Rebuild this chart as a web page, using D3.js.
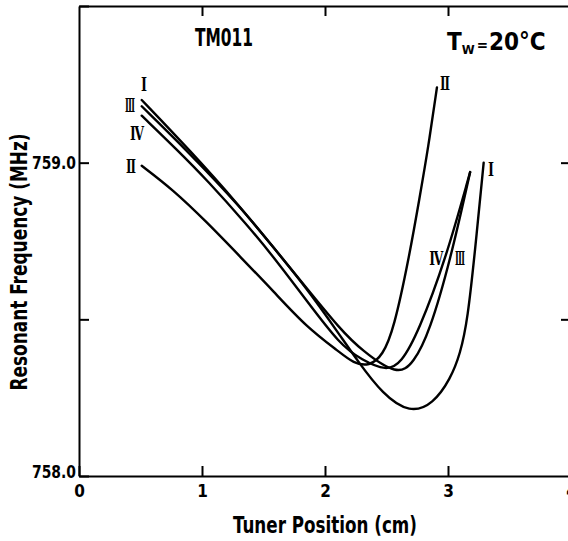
<!DOCTYPE html>
<html>
<head>
<meta charset="utf-8">
<script src="https://cdn.jsdelivr.net/npm/d3@7"></script>
<style>
  html, body { margin: 0; padding: 0; background: #fff; }
  svg { display: block; }
  .axis path, .axis line { stroke: #000; stroke-width: 2; }
  .axis text { font-family: "DejaVu Sans Condensed", "Liberation Sans Narrow", sans-serif; font-weight: bold; font-size: 17px; fill: #000; }
  .lbl { font-family: "DejaVu Sans Condensed", "Liberation Sans Narrow", sans-serif; font-weight: bold; fill: #000; }
  .roman { font-family: "DejaVu Serif", serif; font-weight: bold; fill: #000; }
</style>
</head>
<body>
<div id="chart"></div>
<script>
// tuner position (cm) / resonant frequency (MHz)
const curveNames = ["I", "II", "III", "IV"];

const posI  = [0.51, 0.90, 1.31, 1.58, 1.85, 2.12, 2.26, 2.47, 2.69, 2.88, 3.02, 3.10, 3.16, 3.22, 3.29];
const freqI = [759.20, 759.04, 758.86, 758.73, 758.60, 758.45, 758.37, 758.26, 758.20, 758.23, 758.31, 758.39, 758.50, 758.72, 759.00];

const posII  = [0.51, 0.76, 1.04, 1.31, 1.58, 1.85, 2.12, 2.23, 2.36, 2.47, 2.56, 2.68, 2.77, 2.84, 2.91];
const freqII = [758.99, 758.915, 758.81, 758.70, 758.59, 758.475, 758.395, 758.36, 758.35, 758.385, 758.47, 758.69, 758.89, 759.05, 759.24];

const posIII  = [0.51, 0.90, 1.31, 1.58, 1.85, 2.12, 2.30, 2.59, 2.72, 2.85, 3.02, 3.18];
const freqIII = [759.18, 759.03, 758.86, 758.73, 758.60, 758.47, 758.40, 758.32, 758.36, 758.46, 758.69, 758.97];

const posIV  = [0.51, 0.80, 1.04, 1.37, 1.58, 1.85, 2.12, 2.30, 2.50, 2.62, 2.76, 2.98, 3.18];
const freqIV = [759.15, 759.04, 758.945, 758.80, 758.70, 758.56, 758.42, 758.37, 758.335, 758.36, 758.46, 758.69, 758.97];

const xTicks = [0, 1, 2, 3, 4];
const yTicks = [758.0, 758.5, 759.0, 759.5];
const yTickLabels = ["758.0", "", "759.0", ""];

// curve labels (text + anchor in data units)
const labelText = ["Ⅰ", "Ⅲ", "Ⅳ", "Ⅱ", "Ⅱ", "Ⅰ", "Ⅳ", "Ⅲ"];
const labelPos  = [0.528, 0.415, 0.472, 0.423, 2.976, 3.35, 2.905, 3.098];
const labelFreq = [759.25, 759.184, 759.095, 758.99, 759.254, 758.98, 758.696, 758.696];

const W = 568, H = 541;

const svg = d3.select("#chart").append("svg")
  .attr("width", W).attr("height", H);

const x = d3.scaleLinear().domain([0, 4]).range([79, 571]);
const y = d3.scaleLinear().domain([758, 759.5]).range([476, 6]);

// frame with inward ticks
svg.append("g").attr("class", "axis")
  .attr("transform", `translate(0,${y(758)})`)
  .call(d3.axisBottom(x).tickValues(xTicks).tickSize(-10).tickSizeOuter(0).tickPadding(9)
    .tickFormat(d3.format("d")));

svg.append("g").attr("class", "axis")
  .attr("transform", `translate(0,${y(759.5)})`)
  .call(d3.axisTop(x).tickValues([1, 2, 3]).tickSize(-10).tickSizeOuter(0).tickFormat(""));

const left = svg.append("g").attr("class", "axis")
  .attr("transform", `translate(${x(0)},0)`)
  .call(d3.axisLeft(y).tickValues(yTicks).tickSize(-10).tickSizeOuter(0).tickPadding(3)
    .tickFormat((d, i) => yTickLabels[i]));
left.selectAll(".tick text").attr("textLength", 44).attr("lengthAdjust", "spacingAndGlyphs");
// bottom label sits on the axis line instead of centred on it
left.selectAll(".tick text").filter(d => d === 758).attr("dy", "0").attr("y", 1);

svg.append("g").attr("class", "axis")
  .attr("transform", `translate(${x(4)},0)`)
  .call(d3.axisRight(y).tickValues([758.5, 759]).tickSize(-10).tickSizeOuter(0).tickFormat(""));

// curves
const series = [
  posI.map((p, i) => [p, freqI[i]]),
  posII.map((p, i) => [p, freqII[i]]),
  posIII.map((p, i) => [p, freqIII[i]]),
  posIV.map((p, i) => [p, freqIV[i]])
];

const line = d3.line()
  .x(d => x(d[0]))
  .y(d => y(d[1]))
  .curve(d3.curveBasis);

svg.append("g")
  .selectAll("path")
  .data(series)
  .join("path")
  .attr("d", line)
  .attr("fill", "none")
  .attr("stroke", "#000")
  .attr("stroke-width", 2.4)
  .attr("stroke-linecap", "round");

// roman numerals are drawn tall and narrow in the original
const romanWidth = { "Ⅰ": 6, "Ⅱ": 10, "Ⅲ": 10, "Ⅳ": 14 };

svg.append("g")
  .selectAll("text")
  .data(labelText)
  .join("text")
  .attr("class", "roman")
  .attr("x", (d, i) => x(labelPos[i]))
  .attr("y", (d, i) => y(labelFreq[i]))
  .attr("text-anchor", "middle")
  .attr("dominant-baseline", "central")
  .attr("textLength", d => romanWidth[d])
  .attr("lengthAdjust", "spacingAndGlyphs")
  .style("font-size", "19px")
  .text(d => d);

// annotations
svg.append("text").attr("class", "lbl")
  .attr("x", 224).attr("y", 46)
  .attr("text-anchor", "middle")
  .attr("textLength", 58).attr("lengthAdjust", "spacingAndGlyphs")
  .style("font-size", "25px")
  .text("TM011");

const tw = svg.append("text").attr("class", "lbl")
  .attr("x", 447).attr("y", 50)
  .style("font-size", "24px");
tw.append("tspan").text("T");
tw.append("tspan").attr("dy", 4).attr("dx", 0).style("font-size", "13px").text("W");
tw.append("tspan").attr("dy", -4).attr("dx", 2).style("font-size", "15px").text("=");
tw.append("tspan").attr("dx", 1).text("20°C");

svg.append("text").attr("class", "lbl")
  .attr("x", x(2)).attr("y", 533)
  .attr("text-anchor", "middle")
  .attr("textLength", 184).attr("lengthAdjust", "spacingAndGlyphs")
  .style("font-size", "23px")
  .text("Tuner Position (cm)");

svg.append("text").attr("class", "lbl")
  .attr("transform", "translate(27,262) rotate(-90)")
  .attr("text-anchor", "middle")
  .attr("textLength", 257).attr("lengthAdjust", "spacingAndGlyphs")
  .style("font-size", "23px")
  .text("Resonant Frequency (MHz)");
</script>
</body>
</html>
